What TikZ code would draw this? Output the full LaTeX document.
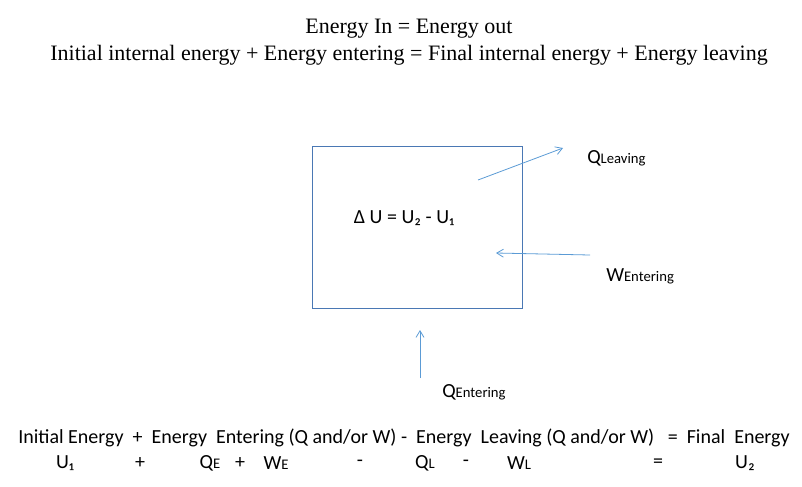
\documentclass[tikz,border=0pt]{standalone}
\usepackage{fontspec}
\setmainfont{Carlito}
\newfontfamily\serif{Liberation Serif}
\usetikzlibrary{arrows.meta}
\definecolor{boxc}{HTML}{4A78B4}
\definecolor{arrc}{HTML}{5B9BD5}
\begin{document}
\begin{tikzpicture}[x=0.75pt,y=-0.75pt,
  t/.style={inner sep=0pt,font=\fontsize{15}{18}\selectfont},
  ar/.style={draw=arrc,-{Straight Barb[length=5pt,width=6pt]},line width=0.6pt}]
\useasboundingbox (0,0) rectangle (802,486);
\newcommand{\sbx}[1]{{\fontsize{11}{12}\selectfont #1}}
\node[font=\serif\fontsize{16.5}{20}\selectfont,align=center,inner sep=0pt] (title) at (409,42) {Energy In = Energy out\\Initial internal energy + Energy entering = Final internal energy + Energy leaving};
\node[draw=boxc,line width=0.8pt,minimum width=157pt,minimum height=121pt,inner sep=0pt] (box) at (417.5,227.5) {};
\node[t] (du) at (404,218) {Δ U = U₂ - U₁};
\coordinate (ql0) at (478,180); \coordinate (ql1) at (563,148);
\draw[ar] (ql0) -- (ql1);
\node[t,anchor=west] (ql) at (587,158) {Q\sbx{Leaving}};
\coordinate (we0) at (590,255); \coordinate (we1) at (496,253);
\draw[ar] (we0) -- (we1);
\node[t,anchor=west] (we) at (606,276) {W\sbx{Entering}};
\coordinate (qe0) at (420,378); \coordinate (qe1) at (420,330);
\draw[ar] (qe0) -- (qe1);
\node[t,anchor=west] (qe) at (442,392) {Q\sbx{Entering}};
% bottom lines
\node[t,anchor=west] (l1) at (18,438) {Initial Energy\ \ +\ \ Energy\ \ Entering (Q and/or W) -\ \ Energy\ \ Leaving (Q and/or W)\ \ \ =\ \ Final\ \ Energy};
\node[t] (u1) at (65,463) {U₁};
\node[t] (p1) at (140,463) {+};
\node[t] (qe2) at (210,463) {Q\sbx{E}};
\node[t] (p2) at (240,463) {+};
\node[t] (we2) at (276,463) {W\sbx{E}};
\node[t] (m1) at (360,463) {-};
\node[t] (ql2) at (425,463) {Q\sbx{L}};
\node[t] (m2) at (466,463) {-};
\node[t] (wl2) at (519,463) {W\sbx{L}};
\node[t] (eq) at (658,463) {=};
\node[t] (u2) at (745,463) {U₂};
\end{tikzpicture}
\end{document}
